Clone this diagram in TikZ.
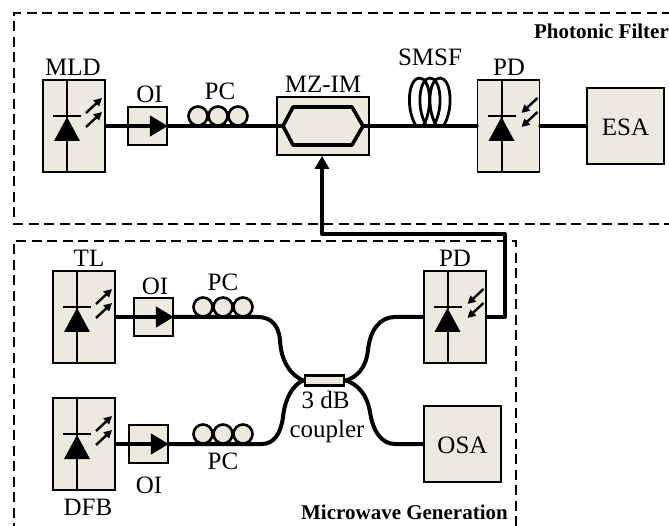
\documentclass[tikz,border=0pt]{standalone}
\usepackage{fontspec}
\setmainfont{Liberation Serif}
\usetikzlibrary{arrows.meta}
\definecolor{boxfill}{HTML}{ECEADF}
\tikzset{
  unit/.style={draw=black,line width=1.8pt,fill=boxfill,inner sep=0pt,rectangle},
  lbl/.style={inner sep=0pt,font=\fontsize{25}{25}\selectfont},
  title/.style={inner sep=0pt,font=\fontsize{21}{21}\selectfont\bfseries},
  fibre/.style={line width=4pt,line cap=round,line join=round},
  frame/.style={line width=2.8pt,dash pattern=on 10pt off 5.5pt},
  ray/.style={line width=2.4pt,-{Triangle[length=8pt,width=8pt,inset=0pt]}},
  isoarrow/.style={line width=4.4pt,-{Triangle[length=18pt,width=20pt,inset=0pt]}},
  loopc/.style={draw=black,line width=2.6pt,fill=boxfill,circle,minimum size=19pt,inner sep=0pt},
  coil/.style={draw=black,line width=2.8pt},
}
% #1 centre x, #2 top y, #3 +1 emit, -1 detect
\newcommand{\diodeunit}[3]{%
  \draw[line width=2pt] (#1,#2) -- (#1,#2+92);
  \fill (#1,#2+37) -- (#1-13,#2+61) -- (#1+13,#2+61) -- cycle;
  \draw[line width=2pt] (#1-14,#2+36) -- (#1+14,#2+36);
  \ifnum#3>0
    \draw[ray] (#1+19,#2+33) -- (#1+35,#2+18);
    \draw[ray] (#1+19,#2+47) -- (#1+35,#2+32);
  \else
    \draw[ray] (#1+36,#2+18) -- (#1+20,#2+33);
    \draw[ray] (#1+36,#2+32) -- (#1+20,#2+47);
  \fi
}
\begin{document}
\begin{tikzpicture}[x=1pt,y=-1pt]
\useasboundingbox (0,0) rectangle (669,526);
\clip (0,0) rectangle (669,526);
\fill[white] (0,0) rectangle (669,526);

% frames
\draw[frame] (672,13) -- (14,13) -- (14,224) -- (672,224);
\draw[frame] (516,527.1) -- (14,527.1) -- (14,241) -- (516,241) -- (516,527.1);
\node[title,anchor=east] (tphot) at (669,31) {Photonic Filter};
\node[title,anchor=east] (tmw) at (508,512) {Microwave Generation};

% units, upper row
\node[unit,minimum width=62pt,minimum height=92pt] (mld) at (74,126) {};
\node[unit,minimum width=39pt,minimum height=38pt] (oi1) at (147.5,126) {};
\node[unit,minimum width=92pt,minimum height=58pt] (mz) at (323,126) {};
\node[unit,minimum width=77pt,minimum height=76pt] (esa) at (625.5,126) {};
\node[unit,minimum width=62pt,minimum height=92pt] (pd1) at (508.5,126) {};
\node[lbl] at (625.5,127) {ESA};

% units, lower part
\node[unit,minimum width=62pt,minimum height=92pt] (tl) at (84,317) {};
\node[unit,minimum width=62pt,minimum height=92pt] (dfb) at (84,444) {};
\node[unit,minimum width=62pt,minimum height=92pt] (pd2) at (455,317) {};
\node[unit,minimum width=39pt,minimum height=38pt] (oi2) at (153.5,317) {};
\node[unit,minimum width=39pt,minimum height=38pt] (oi3) at (148.5,444) {};
\node[unit,minimum width=77pt,minimum height=76pt] (osa) at (462.5,444) {};
\node[lbl] at (462.5,445) {OSA};

% coordinates for tips and waypoints
\coordinate (cl) at (303,380.5);
\coordinate (cr) at (346,380.5);

% diode internals
\diodeunit{67}{80}{1}
\diodeunit{501.5}{80}{-1}
\diodeunit{77}{271}{1}
\diodeunit{77}{398}{1}
\diodeunit{447.5}{271}{-1}

% fibres
\draw[fibre] (oi1.east) -- (mz.west) -- (283,126);
\draw[fibre] (363,126) -- (pd1.west);
\draw[fibre] (pd1.east) -- (esa.west);
\draw[fibre] (oi2.east) -- (258,317)
  .. controls (272,317) and (279,327) .. (280,340)
  .. controls (281,362) and (291,375) .. (cl);
\draw[fibre] (oi3.east) -- (262,444)
  .. controls (274,444) and (281,433) .. (283,417)
  .. controls (285,398) and (293,385) .. (cl);
\draw[fibre] (cr) .. controls (357,377) and (366,368) .. (368,350)
  .. controls (370,330) and (380,317) .. (395,317) -- (pd2.west);
\draw[fibre] (cr) .. controls (357,384) and (367,394) .. (370,412)
  .. controls (373,432) and (382,444) .. (395,444) -- (osa.west);
\node[unit,minimum width=39pt,minimum height=10pt,line width=2.4pt] (cpl) at (324.5,380.5) {};
\draw[line width=3.6pt,line join=round] (283,126) -- (293,107) -- (352,107) -- (363,126) -- (352,145) -- (293,145) -- cycle;

% modulation feedback
\coordinate (fbend) at (322,234);
\draw[line width=4pt,line join=round,-{Triangle[length=13pt,width=14pt,inset=0pt]}]
  (pd2.east) -- (505,317) -- (505,234) -- (fbend) -- (fbend|-mz.south);

% isolator arrows
\draw[isoarrow] (mld.east) -- (oi1.east);
\draw[isoarrow] (tl.east) -- (oi2.east);
\draw[isoarrow] (dfb.east) -- (oi3.east);

% polarisation controllers
\foreach \nm/\cx in {a/198,b/218,c/238}
  \node[loopc] (pc1\nm) at (\cx,116) {};
\foreach \nm/\cx in {a/203,b/223,c/243}
  \node[loopc] (pc2\nm) at (\cx,307) {};
\foreach \nm/\cx in {a/203,b/223,c/243}
  \node[loopc] (pc3\nm) at (\cx,434) {};
\draw[fibre] (188,126) -- (248,126);
\draw[fibre] (193,317) -- (253,317);
\draw[fibre] (193,444) -- (253,444);

% fibre coil
\foreach \cx in {419.5,430,440}
  \draw[coil] (\cx-4,125) .. controls (\cx-14,108) and (\cx-11,78) .. (\cx,78)
     .. controls (\cx+11,78) and (\cx+14,108) .. (\cx+4,125);

% labels
\node[lbl] at (73,67) {MLD};
\node[lbl] at (149.5,94) {OI};
\node[lbl] at (220,91) {PC};
\node[lbl] at (323,84) {MZ-IM};
\node[lbl] at (430,57) {SMSF};
\node[lbl] at (509,67) {PD};
\node[lbl] at (89,258) {TL};
\node[lbl] at (155,286) {OI};
\node[lbl] at (223,282) {PC};
\node[lbl] at (455,258) {PD};
\node[lbl] at (88,507) {DFB};
\node[lbl] at (149,485) {OI};
\node[lbl] at (223,461) {PC};
\node[lbl] at (325.5,400) {3 dB};
\node[lbl] at (327,431) {coupler};
\end{tikzpicture}
\end{document}
